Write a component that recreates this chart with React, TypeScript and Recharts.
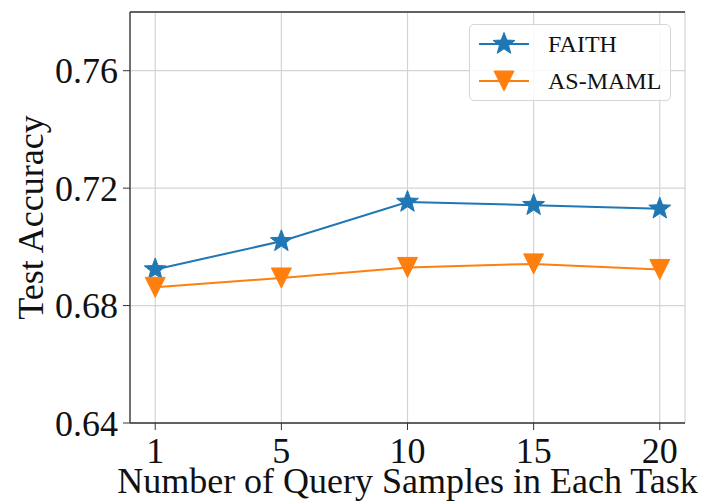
import React from "react";
import { LineChart, Line, XAxis, YAxis, CartesianGrid, ReferenceLine } from "recharts";

const querySamples = ["1", "5", "10", "15", "20"];
const faithAcc = [0.6923, 0.7019, 0.7153, 0.7142, 0.713];
const asMamlAcc = [0.6862, 0.6894, 0.693, 0.6942, 0.6923];
const yTicks = [0.64, 0.68, 0.72, 0.76];

const FAITH_COLOR = "#1f77b4";
const ASMAML_COLOR = "#ff7f0e";
const FONT = "'Liberation Serif', 'DejaVu Serif', serif";

const data = querySamples.map((q, i) => ({
  idx: i,
  q,
  faith: faithAcc[i],
  asMaml: asMamlAcc[i],
}));

function starPath(cx: number, cy: number, R: number) {
  const r = R * 0.42;
  let d = "";
  for (let k = 0; k < 10; k++) {
    const rad = k % 2 === 0 ? R : r;
    const a = -Math.PI / 2 + (k * Math.PI) / 5;
    d += (k === 0 ? "M" : "L") + (cx + rad * Math.cos(a)).toFixed(2) + "," + (cy + rad * Math.sin(a)).toFixed(2);
  }
  return d + "Z";
}

function triPath(cx: number, cy: number, r: number) {
  return `M${cx - r},${cy - r}L${cx + r},${cy - r}L${cx},${cy + r}Z`;
}

function StarDot(props: any) {
  const { cx, cy, index } = props;
  if (cx == null || cy == null) return null;
  return <path key={`s${index}`} d={starPath(cx, cy, 11.5)} fill={FAITH_COLOR} stroke={FAITH_COLOR} strokeWidth={1} />;
}

function TriDot(props: any) {
  const { cx, cy, index } = props;
  if (cx == null || cy == null) return null;
  return <path key={`t${index}`} d={triPath(cx, cy, 10)} fill={ASMAML_COLOR} stroke={ASMAML_COLOR} strokeWidth={1} />;
}

function YLabel(props: any) {
  const vb = props.viewBox || {};
  const cy = vb.y + vb.height / 2;
  const x = 31;
  return (
    <text x={x} y={cy} transform={`rotate(-90, ${x}, ${cy})`} textAnchor="middle" dominantBaseline="central"
      fontFamily={FONT} fontSize={36} fill="#111">
      Test Accuracy
    </text>
  );
}

function ChartLegend() {
  return (
    <div style={{
      position: "absolute", left: 469, top: 24, width: 200, height: 75,
      border: "1px solid #d6d6d6", borderRadius: 5, background: "rgba(255,255,255,0.85)",
    }}>
      <svg width={200} height={75}>
        <line x1={9} x2={59} y1={19} y2={19} stroke={FAITH_COLOR} strokeWidth={2} />
        <path d={starPath(34, 19, 11.5)} fill={FAITH_COLOR} stroke={FAITH_COLOR} />
        <text x={78} y={19} dominantBaseline="central" fontFamily={FONT} fontSize={24} fill="#111">FAITH</text>
        <line x1={9} x2={59} y1={56} y2={56} stroke={ASMAML_COLOR} strokeWidth={2} />
        <path d={triPath(34, 56, 10)} fill={ASMAML_COLOR} stroke={ASMAML_COLOR} />
        <text x={78} y={56} dominantBaseline="central" fontFamily={FONT} fontSize={24} fill="#111">AS-MAML</text>
      </svg>
    </div>
  );
}

export default function App() {
  const tickStyle = { fontFamily: FONT, fontSize: 36, fill: "#111" };
  return (
    <div style={{ position: "absolute", left: 0, top: 0, width: 704, height: 503, background: "#fff" }}>
      <LineChart width={704} height={503} data={data} margin={{ top: 12, right: 19, left: 0, bottom: 0 }}>
        <CartesianGrid xAxisId="main" yAxisId="main" stroke="#d4d4d4" strokeWidth={1.2} />
        <XAxis
          xAxisId="main"
          dataKey="idx"
          type="number"
          domain={[-0.2, 4.2]}
          ticks={[0, 1, 2, 3, 4]}
          tickFormatter={(i: number) => querySamples[i]}
          height={80}
          tick={tickStyle}
          tickSize={7}
          tickMargin={7}
          axisLine={{ stroke: "#333", strokeWidth: 1.3 }}
          tickLine={{ stroke: "#333" }}
          allowDataOverflow
          label={{
            value: "Number of Query Samples in Each Task",
            position: "insideBottom",
            offset: 10,
            style: { fontFamily: FONT, fontSize: 36, fill: "#111" },
          }}
        />
        <YAxis
          yAxisId="main"
          domain={[0.64, 0.78]}
          ticks={yTicks}
          tickFormatter={(v: number) => v.toFixed(2)}
          width={130}
          tick={tickStyle}
          tickSize={7}
          tickMargin={5}
          axisLine={{ stroke: "#333", strokeWidth: 1.3 }}
          tickLine={{ stroke: "#333" }}
          allowDataOverflow
          label={<YLabel />}
        />
        <YAxis yAxisId="right" domain={[0.64, 0.78]} orientation="right" width={0}
          tick={false} tickLine={false} axisLine={{ stroke: "#333", strokeWidth: 1.3 }} />
        <ReferenceLine xAxisId="main" yAxisId="main" y={0.78} stroke="#333" strokeWidth={1.3} />
        <Line xAxisId="main" yAxisId="main" dataKey="faith" stroke={FAITH_COLOR} strokeWidth={2}
          dot={StarDot} activeDot={false} isAnimationActive={false} />
        <Line xAxisId="main" yAxisId="main" dataKey="asMaml" stroke={ASMAML_COLOR} strokeWidth={2}
          dot={TriDot} activeDot={false} isAnimationActive={false} />
      </LineChart>
      <ChartLegend />
    </div>
  );
}
